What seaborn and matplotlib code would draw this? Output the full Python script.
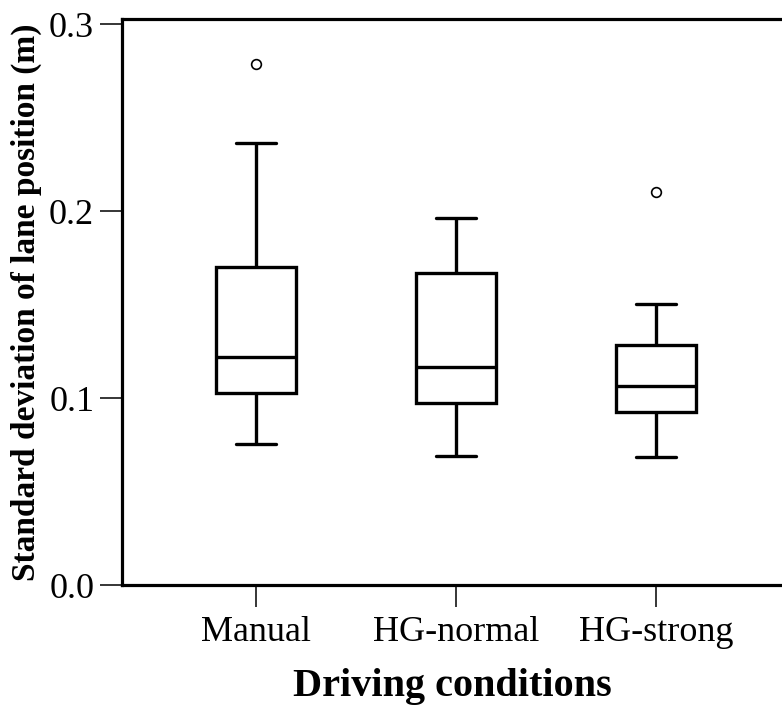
import pandas as pd
import matplotlib.pyplot as plt
import seaborn as sns

# values (SD of lane position, m)
conditions = ['Manual', 'HG-normal', 'HG-strong']
manual = [0.0754, 0.090, 0.1027, 0.112, 0.1219, 0.145, 0.1701, 0.2364, 0.2786]
hg_normal = [0.0690, 0.085, 0.0973, 0.105, 0.1166, 0.140, 0.1668, 0.185, 0.1964]
hg_strong = [0.0684, 0.080, 0.0925, 0.100, 0.1064, 0.115, 0.1283, 0.1503, 0.2102]

df = pd.DataFrame({
    'condition': [conditions[0]] * len(manual) + [conditions[1]] * len(hg_normal) + [conditions[2]] * len(hg_strong),
    'sd': manual + hg_normal + hg_strong,
})

sns.set_style('white')
plt.rcParams['font.family'] = ['Liberation Serif', 'DejaVu Serif']
plt.rcParams['text.color'] = 'black'
plt.rcParams['axes.labelcolor'] = 'black'
plt.rcParams['xtick.color'] = 'black'
plt.rcParams['ytick.color'] = 'black'

fig = plt.figure(figsize=(7.82, 7.05), dpi=100)
ax = fig.add_axes([0.156, 0.170, 0.844, 0.803])

sns.boxplot(data=df, x='condition', y='sd', order=conditions, width=0.4,
            color='white', linecolor='black', linewidth=2.4, ax=ax,
            flierprops=dict(marker='o', markersize=7, markerfacecolor='white',
                            markeredgecolor='black', markeredgewidth=1.2))

ax.set_xlim(-0.67, 2.63)
ax.set_ylim(0, 0.3027)
ax.set_yticks([0.0, 0.1, 0.2, 0.3])
ax.set_yticklabels(['0.0', '0.1', '0.2', '0.3'])

for side in ['left', 'bottom', 'top']:
    ax.spines[side].set_linewidth(2.3)
    ax.spines[side].set_color('black')
ax.spines['right'].set_visible(False)

ax.tick_params(axis='both', direction='out', length=16, width=1.1, colors='black',
               labelsize=26, pad=4, left=True, bottom=True)
ax.tick_params(axis='x', pad=6)

ax.set_xlabel('Driving conditions', fontsize=29, fontweight='bold', labelpad=14,
              color='black')
ax.set_ylabel('Standard deviation of lane position (m)', fontsize=24,
              fontweight='bold', labelpad=5, color='black')

fig.savefig('out.png', dpi=100)
